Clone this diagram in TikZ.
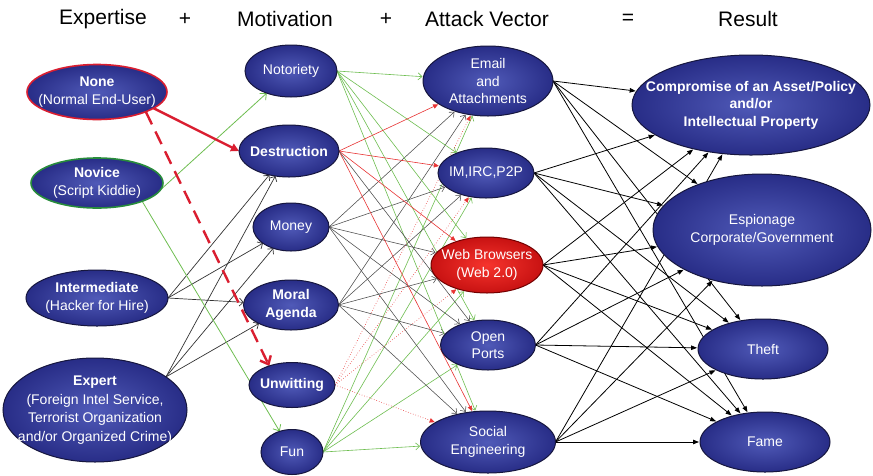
\documentclass[tikz,border=0pt]{standalone}
\usepackage{fontspec}
\setmainfont{Liberation Sans}
\usetikzlibrary{shapes.geometric,arrows.meta,backgrounds}

\definecolor{navyedge}{RGB}{22,22,62}
\definecolor{bluein}{RGB}{80,90,184}
\definecolor{blueout}{RGB}{40,45,135}
\definecolor{redin}{RGB}{246,52,45}
\definecolor{redout}{RGB}{200,18,18}
\definecolor{linkgreen}{RGB}{110,190,80}
\definecolor{linkred}{RGB}{232,52,52}
\definecolor{linkgray}{RGB}{75,75,75}
\definecolor{ringred}{RGB}{218,30,48}
\definecolor{ringgreen}{RGB}{40,140,60}

\tikzset{
  blob/.style={ellipse, draw=navyedge, line width=1pt, inner sep=0pt, outer sep=0pt,
    inner color=bluein, outer color=blueout},
  hot/.style={blob, draw=red!45!black, inner color=redin, outer color=redout},
  lbl/.style={text=white, align=center, inner sep=0pt, font=\fontsize{14}{17.5}\selectfont},
  hdr/.style={font=\fontsize{21}{25}\selectfont, inner sep=0pt},
  gline/.style={draw=linkgreen, line width=0.6pt, -{Straight Barb[length=4pt,width=7pt]}, shorten >=1pt},
  kline/.style={draw=linkgray, line width=0.55pt, -{Straight Barb[length=4pt,width=7pt]}, shorten >=1pt},
  rline/.style={draw=linkred, line width=0.6pt, -{Triangle[length=5pt,width=4.5pt]}, shorten >=1pt},
  rdot/.style={rline, dotted},
  outl/.style={draw=black, line width=0.8pt, -{Triangle[length=6pt,width=4.5pt]}, shorten >=1pt},
  inl/.style={draw=black!80, line width=0.7pt, -{Straight Barb[length=4pt,width=8pt]}},
}

\begin{document}
\begin{tikzpicture}[x=1pt, y=-1pt]
\useasboundingbox (0,0) rectangle (873,475);

% column headings
\node[hdr] (h1) at (103,19) {Expertise};
\node[hdr] (p1) at (185,19) {+};
\node[hdr] (h2) at (285,19) {Motivation};
\node[hdr] (p2) at (386,19) {+};
\node[hdr] (h3) at (487,19) {Attack Vector};
\node[hdr] (eq) at (628,19) {=};
\node[hdr] (h4) at (748,19) {Result};

% expertise
\node[blob, draw=ringred, line width=1.6pt, minimum width=140pt, minimum height=55pt,
  label={[lbl]center:{\textbf{None}\\(Normal End-User)}}] (none) at (97,92) {};
\node[blob, draw=ringgreen, line width=1.6pt, minimum width=132pt, minimum height=50pt,
  label={[lbl]center:{\textbf{Novice}\\(Script Kiddie)}}] (novice) at (97,183) {};
\node[blob, minimum width=142pt, minimum height=56pt,
  label={[lbl]center:{\textbf{Intermediate}\\(Hacker for Hire)}}] (inter) at (97,298) {};
\node[blob, minimum width=184pt, minimum height=104pt,
  label={[lbl, font=\fontsize{14}{18.5}\selectfont]center:{\textbf{Expert}\\(Foreign Intel Service,\\Terrorist Organization\\and/or Organized Crime)}}] (expert) at (95,410) {};

% motivation
\node[blob, minimum width=92pt, minimum height=52pt, label={[lbl]center:{Notoriety}}] (notor) at (291,71) {};
\node[blob, minimum width=100pt, minimum height=52pt, label={[lbl]center:{\textbf{Destruction}}}] (destr) at (289,151) {};
\node[blob, minimum width=76pt, minimum height=48pt, label={[lbl]center:{Money}}] (money) at (291,227) {};
\node[blob, minimum width=95pt, minimum height=50pt, label={[lbl]center:{\textbf{Moral}\\\textbf{Agenda}}}] (moral) at (291,305) {};
\node[blob, minimum width=86pt, minimum height=45pt, label={[lbl]center:{\textbf{Unwitting}}}] (unwit) at (292,385) {};
\node[blob, minimum width=62pt, minimum height=45pt, label={[lbl]center:{Fun}}] (fun) at (292,452) {};

% attack vectors
\node[blob, minimum width=130pt, minimum height=70pt, label={[lbl]center:{Email\\and\\Attachments}}] (email) at (488,81) {};
\node[blob, minimum width=96pt, minimum height=50pt, label={[lbl]center:{IM,IRC,P2P}}] (ims) at (486,173) {};
\node[hot, minimum width=112pt, minimum height=56pt, label={[lbl]center:{Web Browsers\\(Web 2.0)}}] (web) at (487,265) {};
\node[blob, minimum width=95pt, minimum height=50pt, label={[lbl]center:{Open\\Ports}}] (ports) at (488,345) {};
\node[blob, minimum width=135pt, minimum height=62pt, label={[lbl]center:{Social\\Engineering}}] (social) at (488,442) {};

% results
\node[blob, minimum width=238pt, minimum height=100pt,
  label={[lbl]center:{\textbf{Compromise of an Asset/Policy}\\\textbf{and/or}\\\textbf{Intellectual Property}}}] (comp) at (751,105) {};
\node[blob, minimum width=218pt, minimum height=112pt,
  label={[lbl]center:{Espionage\\Corporate/Government}}] (espi) at (762,230) {};
\node[blob, minimum width=130pt, minimum height=60pt, label={[lbl]center:{Theft}}] (theft) at (763,349) {};
\node[blob, minimum width=130pt, minimum height=60pt, label={[lbl]center:{Fame}}] (fame) at (765,442) {};

\begin{scope}[on background layer]
  \fill[white] (0,0) rectangle (873,475);

  % expertise -> motivation
  \draw[inl] (inter.east) -- (destr);
  \draw[inl] (inter.east) -- (money);
  \draw[inl] (inter.east) -- (moral);
  \draw[inl] (expert.25) -- (destr);
  \draw[inl] (expert.25) -- (money);
  \draw[inl] (expert.25) -- (moral);
  \draw[draw=linkgreen, line width=0.8pt, -{Straight Barb[length=5pt,width=9pt]}] (novice.-12) -- (notor);
  \draw[draw=linkgreen, line width=0.8pt, -{Straight Barb[length=5pt,width=9pt]}] (novice.-22) -- (fun);
  \draw[draw=ringred, line width=2.4pt, -{Triangle[length=8pt,width=8pt]}] (none.-16) -- (destr.west);
  \draw[draw=ringred, line width=2.4pt, dash pattern=on 14pt off 8pt,
        -{Straight Barb[length=7pt,width=12pt]}] (none.-22) -- (unwit.140);

  % motivation -> attack vector
  \foreach \t in {email,ims,web,ports,social} {
    \draw[gline] (notor.east) -- (\t);
    \draw[kline] (money.east) -- (\t);
    \draw[kline] (moral.east) -- (\t);
    \draw[gline] (fun.east) -- (\t);
  }
  \foreach \t in {email,ims,web,social} {
    \draw[rline] (destr.east) -- (\t);
    \draw[rdot] (unwit.east) -- (\t);
  }
  \draw[kline] (destr.east) -- (ports);

  % attack vector -> result
  \foreach \s in {email,ims,web,ports,social} {
    \foreach \t in {comp,espi,theft,fame} {
      \draw[outl] (\s.east) -- (\t);
    }
  }
\end{scope}
\end{tikzpicture}
\end{document}
